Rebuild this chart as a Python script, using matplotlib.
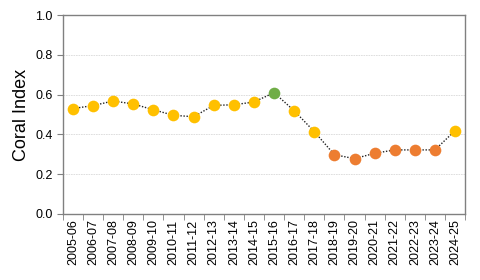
import matplotlib
matplotlib.use("Agg")
import matplotlib.pyplot as plt
from matplotlib.ticker import FixedLocator, MultipleLocator

plt.rcParams['font.family'] = ['Liberation Sans', 'DejaVu Sans']

years = ["2005-06", "2006-07", "2007-08", "2008-09", "2009-10", "2010-11",
         "2011-12", "2012-13", "2013-14", "2014-15", "2015-16", "2016-17",
         "2017-18", "2018-19", "2019-20", "2020-21", "2021-22", "2022-23",
         "2023-24", "2024-25"]
values = [0.53, 0.545, 0.568, 0.553, 0.524, 0.496, 0.489, 0.546, 0.549, 0.563,
          0.61, 0.519, 0.414, 0.298, 0.278, 0.305, 0.322, 0.322, 0.322, 0.419]
colors = ["#FFC000"] * 10 + ["#70AD47"] + ["#FFC000"] * 2 + ["#ED7D31"] * 6 + ["#FFC000"]

fig = plt.figure(figsize=(4.8, 2.8), dpi=100)
ax = fig.add_axes([0.131, 0.236, 0.838, 0.71])

x = list(range(len(years)))
ax.plot(x, values, linestyle=(0, (1, 1.2)), color="#222222", linewidth=1.0, zorder=2)
for xi, v, c in zip(x, values, colors):
    ax.plot(xi, v, marker='o', markersize=8.4, color=c, markeredgewidth=0, linestyle='none', zorder=3)

ax.set_xlim(-0.5, len(years) - 0.5)
ax.set_ylim(0, 1.0)
ax.yaxis.set_major_locator(MultipleLocator(0.2))
ax.set_yticklabels([f"{t:.1f}" for t in ax.get_yticks()])
ax.set_xticks(x)
ax.set_xticklabels(years, rotation=90, fontsize=9)
ax.tick_params(axis='x', which='major', length=0, pad=4)
ax.xaxis.set_minor_locator(FixedLocator([i - 0.5 for i in range(len(years) + 1)]))
ax.tick_params(axis='x', which='minor', length=4, color="#808080", direction='out')
ax.tick_params(axis='y', labelsize=9, length=4, color="#808080", direction='out')

ax.grid(axis='y', color="#D9D9D9", linewidth=0.6, linestyle=(0, (2, 1)))
ax.set_axisbelow(True)
for s in ax.spines.values():
    s.set_color("#808080")
    s.set_linewidth(1.0)

ax.set_ylabel("Coral Index", fontsize=13, labelpad=4)

fig.savefig("out.png", dpi=100)
